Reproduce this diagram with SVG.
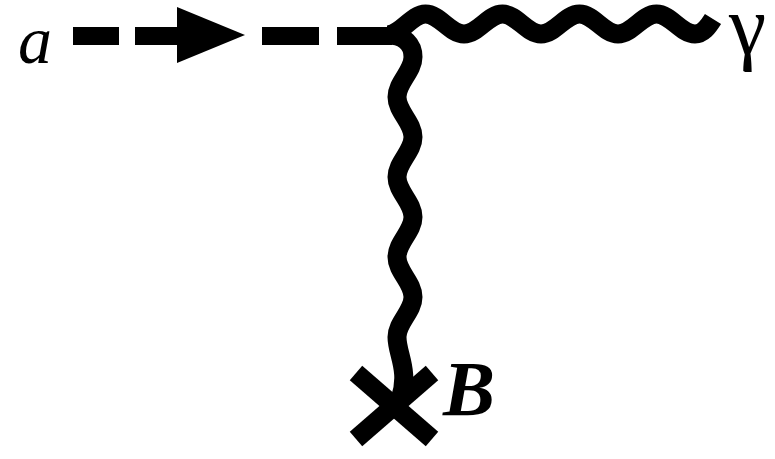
<svg xmlns="http://www.w3.org/2000/svg" width="775" height="459" viewBox="0 0 775 459">
  <style>
    .lbl { font-family: "Liberation Serif", "DejaVu Serif", "Times New Roman", serif; fill: #000; }
    .dash { fill: #000; }
    .wave { fill: none; stroke: #000; stroke-width: 19; stroke-linecap: butt; stroke-linejoin: round; }
    .cross { stroke: #000; stroke-width: 19; stroke-linecap: butt; }
  </style>
  <rect width="775" height="459" fill="#fff"/>
  <g id="node-a">
    <text class="lbl" x="18" y="63" font-size="68" font-style="italic">a</text>
  </g>
  <g id="node-gamma">
    <text class="lbl" x="766" y="54" font-size="84" text-anchor="end">γ</text>
  </g>
  <g id="node-B">
    <g id="cross-B">
      <line class="cross" x1="356" y1="373" x2="432" y2="439"/>
      <line class="cross" x1="356" y1="439" x2="432" y2="373"/>
    </g>
    <text class="lbl" x="443" y="415" font-size="78" font-style="italic" font-weight="bold">B</text>
  </g>
  <g id="connectors">
    <g id="scalar-line">
      <rect class="dash" x="73" y="27" width="46" height="18"/>
      <rect class="dash" x="135" y="27" width="44" height="18"/>
      <polygon class="dash" points="177,7 245,35 177,63"/>
      <rect class="dash" x="262" y="27" width="57" height="18"/>
      <rect class="dash" x="337" y="27" width="55" height="18"/>
    </g>
    <path id="photon-line" class="wave" d="M387,35 C401,35 411.5,14 425.5,14 C439.5,14 450,34 464,34 C478,34 488.5,14 502.5,14 C516.5,14 527,34 541,34 C555,34 565.5,14 579.5,14 C593.5,14 604,34 618,34 C632,34 642.5,14 656.5,14 C670.5,14 681,34 695,34 C703,34 708,27 713,19"/>
    <path id="field-line" class="wave" d="M388,35 C405,35 413,45 413,57 C413,71.6 397,82.4 397,97 C397,111.6 413,122.4 413,137 C413,151.6 397,162.4 397,177 C397,191.6 413,202.4 413,217 C413,231.6 397,242.4 397,257 C397,271.6 413,282.4 413,297 C413,311.6 397,322.4 397,337 C397,355 410,370 400,400"/>
  </g>
</svg>
